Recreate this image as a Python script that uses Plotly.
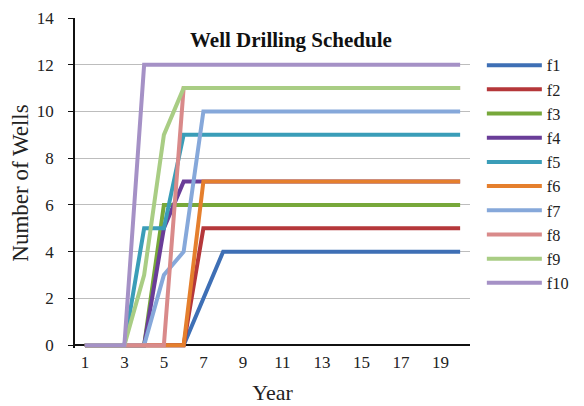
import plotly.graph_objects as go

years = [1, 2, 3, 4, 5, 6, 7, 8, 9, 10, 11, 12, 13, 14, 15, 16, 17, 18, 19, 20]
x_tick_labels = [1, 3, 5, 7, 9, 11, 13, 15, 17, 19]
y_tick_labels = [0, 2, 4, 6, 8, 10, 12, 14]

f1 = [0, 0, 0, 0, 0, 0, 2, 4, 4, 4, 4, 4, 4, 4, 4, 4, 4, 4, 4, 4]
f2 = [0, 0, 0, 0, 0, 0, 5, 5, 5, 5, 5, 5, 5, 5, 5, 5, 5, 5, 5, 5]
f3 = [0, 0, 0, 0, 6, 6, 6, 6, 6, 6, 6, 6, 6, 6, 6, 6, 6, 6, 6, 6]
f4 = [0, 0, 0, 0, 5, 7, 7, 7, 7, 7, 7, 7, 7, 7, 7, 7, 7, 7, 7, 7]
f5 = [0, 0, 0, 5, 5, 9, 9, 9, 9, 9, 9, 9, 9, 9, 9, 9, 9, 9, 9, 9]
f6 = [0, 0, 0, 0, 0, 0, 7, 7, 7, 7, 7, 7, 7, 7, 7, 7, 7, 7, 7, 7]
f7 = [0, 0, 0, 0, 3, 4, 10, 10, 10, 10, 10, 10, 10, 10, 10, 10, 10, 10, 10, 10]
f8 = [0, 0, 0, 0, 0, 11, 11, 11, 11, 11, 11, 11, 11, 11, 11, 11, 11, 11, 11, 11]
f9 = [0, 0, 0, 3, 9, 11, 11, 11, 11, 11, 11, 11, 11, 11, 11, 11, 11, 11, 11, 11]
f10 = [0, 0, 0, 12, 12, 12, 12, 12, 12, 12, 12, 12, 12, 12, 12, 12, 12, 12, 12, 12]

series_names = ["f1", "f2", "f3", "f4", "f5", "f6", "f7", "f8", "f9", "f10"]
series_values = [f1, f2, f3, f4, f5, f6, f7, f8, f9, f10]
series_colors = ["#3E6FB5", "#B5373A", "#77A83A", "#6A3D98", "#3A9DB8",
                 "#E57F2D", "#86A8DA", "#D98A8A", "#A9CD84", "#A591C6"]

FONT = "Liberation Serif"

fig = go.Figure()
for name, vals, col in zip(series_names, series_values, series_colors):
    fig.add_trace(go.Scatter(x=years, y=vals, name=name, mode="lines",
                             line=dict(color=col, width=4)))

# the page body adds an 8px offset, so the figure is sized/margined to compensate
fig.update_layout(
    width=576, height=398,
    margin=dict(l=67, r=104, t=10, b=58),
    paper_bgcolor="white", plot_bgcolor="white",
    font=dict(family=FONT, color="#222222", size=17),
    showlegend=True,
    legend=dict(x=1.03, xanchor="left", y=0.909, yanchor="top",
                font=dict(family=FONT, size=16.3, color="#222222"),
                itemwidth=55, tracegroupgap=0, bgcolor="rgba(0,0,0,0)"),
    annotations=[dict(text="<b>Well Drilling Schedule</b>", xref="paper", yref="paper",
                      x=0.546, y=0.933, xanchor="center", yanchor="middle",
                      showarrow=False, font=dict(family=FONT, size=21, color="#111111"))],
)

fig.update_xaxes(range=[0.5, 20.5], tickmode="array", tickvals=x_tick_labels,
                 ticktext=[str(v) for v in x_tick_labels],
                 showgrid=False, showline=False, zeroline=False, ticks="",
                 ticklabelstandoff=2, automargin=False, ticklabeloverflow="allow",
                 tickfont=dict(family=FONT, size=17, color="#222222"),
                 title=dict(text="Year", font=dict(family=FONT, size=22, color="#222222"),
                            standoff=13))

fig.update_yaxes(range=[-0.12, 14], tickmode="array", tickvals=y_tick_labels,
                 showgrid=True, gridcolor="#BDBDBD", gridwidth=1,
                 zeroline=True, zerolinecolor="#111111", zerolinewidth=1.5,
                 showline=True, linecolor="#111111", linewidth=1.5,
                 ticks="outside", ticklen=5, tickcolor="#111111",
                 ticklabelstandoff=11, automargin=False, ticklabeloverflow="allow",
                 tickfont=dict(family=FONT, size=17, color="#222222"),
                 title=dict(text="Number of Wells", font=dict(family=FONT, size=23, color="#222222"),
                            standoff=2))

fig.write_html("out.html")
